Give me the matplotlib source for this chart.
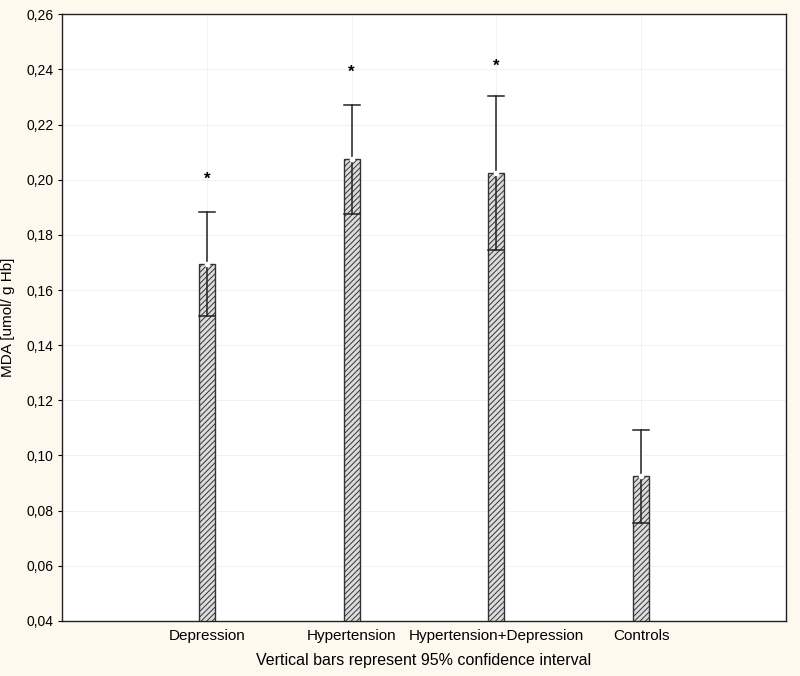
import matplotlib
matplotlib.use("Agg")
import matplotlib.pyplot as plt
import numpy as np

plt.rcParams['font.family'] = ['Liberation Sans', 'DejaVu Sans']
plt.rcParams['hatch.linewidth'] = 0.7

categories = ["Depression", "Hypertension", "Hypertension+Depression", "Controls"]
means = [0.1696, 0.2076, 0.2025, 0.0924]
ci_lower = [0.1504, 0.1877, 0.1746, 0.0754]
ci_upper = [0.1884, 0.2272, 0.2304, 0.1094]
star_y = [0.200, 0.239, 0.241, None]
y_ticks = [0.04, 0.06, 0.08, 0.10, 0.12, 0.14, 0.16, 0.18, 0.20, 0.22, 0.24, 0.26]
base = 0.04

fig = plt.figure(figsize=(8, 6.76), dpi=100)
fig.patch.set_facecolor('#fdf9ee')
ax = fig.add_axes([0.0775, 0.0814, 0.905, 0.8976])
ax.set_facecolor('white')

x = np.arange(len(categories))
w = 0.11
heights = [m - base for m in means]
ax.bar(x, heights, width=w, bottom=base, color='#dcdcdc', edgecolor='#333333',
       hatch='//////', linewidth=1.0, zorder=3)

for xi, m, lo, hi in zip(x, means, ci_lower, ci_upper):
    ax.plot([xi, xi], [lo, hi], color='#222222', lw=1.1, zorder=4)
    ax.plot([xi - w / 2, xi + w / 2], [hi, hi], color='#222222', lw=1.1, zorder=4)
    ax.plot([xi - w / 2, xi + w / 2], [lo, lo], color='#222222', lw=1.1, zorder=4)
    ax.plot([xi], [m], marker='o', ms=3, mfc='white', mec='white', zorder=5)

for xi, sy in zip(x, star_y):
    if sy is not None:
        ax.text(xi, sy, '*', ha='center', va='center', fontsize=12, fontweight='bold', zorder=5)

ax.set_xlim(-1, 4)
ax.set_ylim(0.04, 0.26)
ax.set_yticks(y_ticks)
ax.set_yticklabels([f"{v:.2f}".replace('.', ',') for v in y_ticks], fontsize=10)
ax.set_xticks(x)
ax.set_xticklabels(categories, fontsize=11)
ax.tick_params(axis='x', length=0, pad=6)
ax.tick_params(axis='y', length=3, direction='out', pad=3)
ax.grid(True, color='#f0f0f0', lw=0.6, zorder=0)
ax.set_axisbelow(True)
for s in ax.spines.values():
    s.set_color('#222222')
    s.set_linewidth(1.0)

ax.set_ylabel('MDA [umol/ g Hb]', fontsize=11, labelpad=8)
ax.set_xlabel('Vertical bars represent 95% confidence interval', fontsize=11.5, labelpad=7)

fig.savefig('out.png', dpi=100, facecolor=fig.get_facecolor())
